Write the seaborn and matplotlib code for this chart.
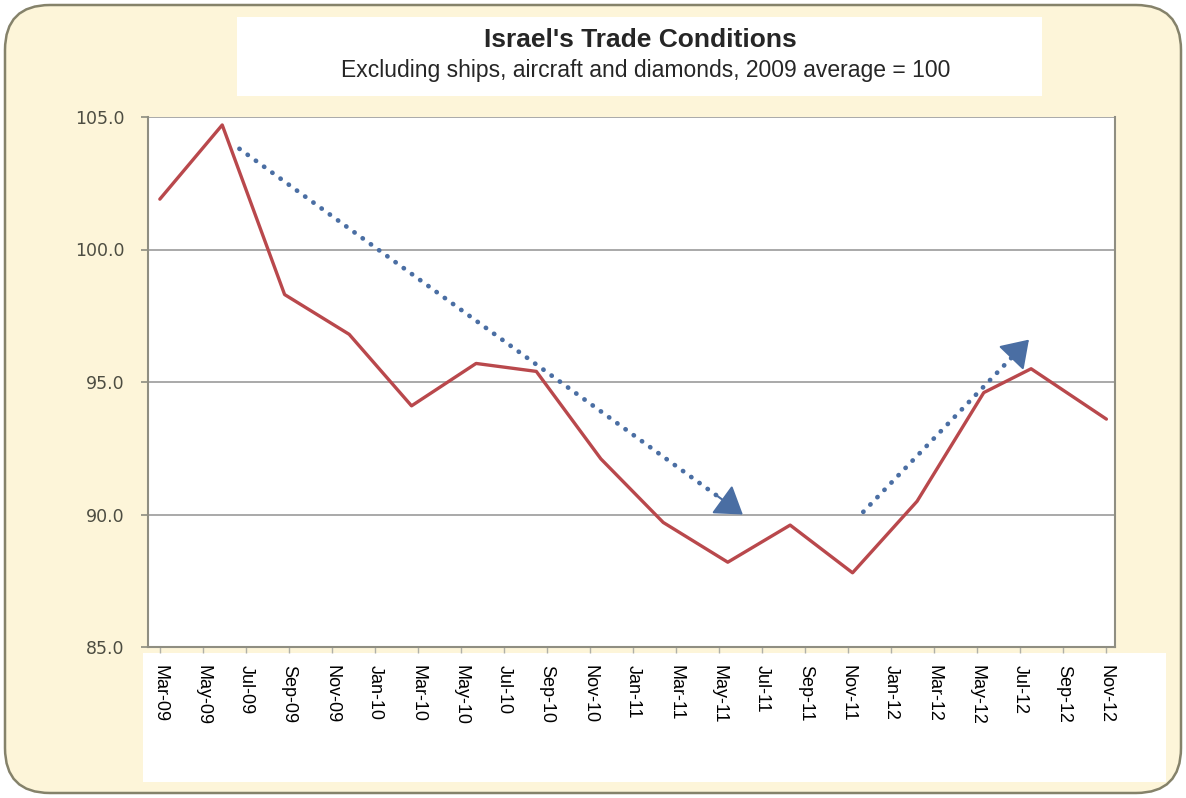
import matplotlib
matplotlib.use("Agg")
import seaborn as sns
import pandas as pd
from matplotlib import pyplot as plt
from matplotlib import patches as mpatches

# months since Mar-09 for each observation, and the index values
month_pos = [0, 2.9, 5.8, 8.8, 11.7, 14.7, 17.5, 20.5, 23.4, 26.4, 29.3, 32.2, 35.2, 38.3, 40.5, 44]
index_val = [101.9, 104.7, 98.3, 96.8, 94.1, 95.7, 95.4, 92.1, 89.7, 88.2, 89.6, 87.8, 90.5, 94.6, 95.5, 93.6]

tick_labels = ["Mar-09", "May-09", "Jul-09", "Sep-09", "Nov-09", "Jan-10", "Mar-10", "May-10",
               "Jul-10", "Sep-10", "Nov-10", "Jan-11", "Mar-11", "May-11", "Jul-11", "Sep-11",
               "Nov-11", "Jan-12", "Mar-12", "May-12", "Jul-12", "Sep-12", "Nov-12"]
tick_months = [0, 2, 4, 6, 8, 10, 12, 14, 16, 18, 20, 22, 24, 26, 28, 30, 32, 34, 36, 38, 40, 42, 44]
y_ticks = [85, 90, 95, 100, 105]

# trend arrows (start, end) in (month, index)
trend_down = [(3.7, 103.8), (27.1, 90.0)]
trend_up = [(32.7, 90.1), (40.4, 96.6)]

title = "Israel's Trade Conditions"
subtitle = "Excluding ships, aircraft and diamonds, 2009 average = 100"

sns.set_style("white")
plt.rcParams['font.family'] = ['Liberation Sans', 'DejaVu Sans']

fig = plt.figure(figsize=(11.86, 7.98), dpi=100)
fig.patch.set_facecolor("white")

# cream rounded background
bg = mpatches.FancyBboxPatch((0.05, 0.05), 11.76, 7.88, boxstyle="round,pad=0,rounding_size=0.45",
                             transform=fig.dpi_scale_trans, facecolor="#fdf5d9", edgecolor="#85826a",
                             linewidth=1.8, zorder=-3)
fig.add_artist(bg)
# white boxes behind title and tick labels
fig.add_artist(mpatches.Rectangle((2.37, 7.98 - 0.96), 8.05, 0.79, transform=fig.dpi_scale_trans,
                                  facecolor="white", edgecolor="none", zorder=-2))
fig.add_artist(mpatches.Rectangle((1.43, 7.98 - 7.82), 10.23, 1.29, transform=fig.dpi_scale_trans,
                                  facecolor="white", edgecolor="none", zorder=-2))

fig.text(640 / 1186, 1 - 47 / 798, title, ha="center", va="baseline", fontsize=19, fontweight="bold")
fig.text(646 / 1186, 1 - 77 / 798, subtitle, ha="center", va="baseline", fontsize=16.5)

ax = fig.add_axes([148 / 1186, 1 - 647 / 798, (1115 - 148) / 1186, (647 - 117) / 798])
ax.set_facecolor("white")

df = pd.DataFrame({"month": month_pos, "value": index_val})
sns.lineplot(data=df, x="month", y="value", color="#b9484c", linewidth=2.4, ax=ax, zorder=3)

blue = "#4a6ea3"
for (x0, y0), (x1, y1) in [trend_down, trend_up]:
    ax.plot([x0, x1 - (x1 - x0) * 0.05], [y0, y1 - (y1 - y0) * 0.05], color=blue, linewidth=3.4,
            linestyle=(0, (0.05, 2.1)), dash_capstyle="round", zorder=4)
    ax.annotate("", xy=(x1, y1), xytext=(x1 - (x1 - x0) * 0.05, y1 - (y1 - y0) * 0.05),
                arrowprops=dict(arrowstyle="-|>,head_length=0.75,head_width=0.5", color=blue,
                                linewidth=1.5, mutation_scale=22, shrinkA=0, shrinkB=0), zorder=4)

ax.set_xlim(-0.55, 44.4)
ax.set_ylim(85, 105)
ax.set_yticks(y_ticks)
ax.set_yticklabels(["%.1f" % v for v in y_ticks], family="DejaVu Sans", fontsize=12.5, color="#4d4d42")
ax.set_xticks(tick_months)
ax.set_xticklabels(tick_labels, rotation=270, fontsize=13, color="black", ha="center", va="top")
ax.tick_params(axis="y", length=5, width=1.2, color="#8c8c80", pad=12, left=True)
ax.tick_params(axis="x", length=4, width=1, color="#b0b0a8", pad=9, bottom=True)
ax.set_xlabel("")
ax.set_ylabel("")
for y in [90, 95, 100, 105]:
    ax.axhline(y, color="#a3a3a3", linewidth=1.3, zorder=1)
for side in ["left", "right", "bottom"]:
    ax.spines[side].set_color("#8f8e82")
    ax.spines[side].set_linewidth(1.5)
ax.spines["top"].set_visible(False)

fig.savefig("out.png", dpi=100)
